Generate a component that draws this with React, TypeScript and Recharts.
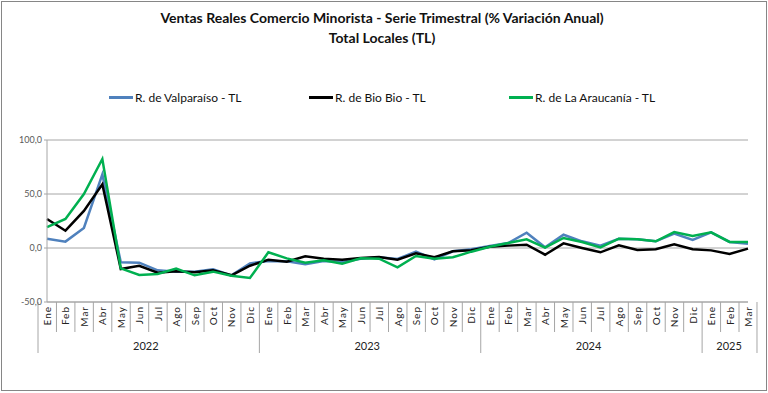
import React from 'react';
import { LineChart, Line, XAxis, YAxis, CartesianGrid } from 'recharts';

const months = [
  'Ene', 'Feb', 'Mar', 'Abr', 'May', 'Jun', 'Jul', 'Ago', 'Sep', 'Oct', 'Nov', 'Dic',
  'Ene', 'Feb', 'Mar', 'Abr', 'May', 'Jun', 'Jul', 'Ago', 'Sep', 'Oct', 'Nov', 'Dic',
  'Ene', 'Feb', 'Mar', 'Abr', 'May', 'Jun', 'Jul', 'Ago', 'Sep', 'Oct', 'Nov', 'Dic',
  'Ene', 'Feb', 'Mar',
];
const years = ['2022', '2023', '2024', '2025'];
const monthsPerYear = [12, 12, 12, 3];

const valparaiso = [
  8.6, 5.9, 18.5, 68.2, -13.3, -13.6, -20.7, -21.9, -21.9, -19.8, -25.3, -14.2,
  -12, -12.3, -15.1, -12, -13, -9.9, -8.6, -10.2, -3.4, -10.5, -3, -1.2,
  1.9, 4.6, 14.2, 0.6, 12.3, 6.2, 2.2, 8.6, 8, 6.2, 13.3, 7.4,
  14.5, 5.6, 4,
];
const bioBio = [
  26.9, 16, 34.3, 59, -19.4, -16.4, -22.8, -21.6, -22.5, -20.7, -25.3, -16.4,
  -11, -12.7, -7.7, -9.9, -10.8, -9.3, -8.3, -10.8, -4.9, -8.6, -3, -2,
  1.2, 2.2, 3.1, -6.2, 4.3, 0, -4, 2.5, -1.9, -1.2, 3.4, -1.2,
  -2.2, -5.6, -0.6,
];
const araucania = [
  19.4, 26.9, 50, 82.4, -18.8, -25, -24, -19.1, -25.3, -21.9, -25.6, -27.8,
  -4, -9.6, -13.6, -11.4, -14.5, -9.6, -9.9, -17.9, -7.4, -9.9, -8.6, -3.4,
  1.2, 4.6, 8, 0.3, 9.3, 5.6, 0.6, 8.6, 8, 6.2, 14.8, 11.1,
  14.5, 5.6, 5.6,
];
const yTicks = [-50, 0, 50, 100];

const series = [
  { key: 'valparaiso', name: 'R. de Valparaíso - TL', color: '#4f81bd' },
  { key: 'bioBio', name: 'R. de Bio Bio - TL', color: '#000000' },
  { key: 'araucania', name: 'R. de La Araucanía - TL', color: '#00b050' },
];

// index where each year group starts
const yearStart: number[] = [];
monthsPerYear.reduce((acc, n) => { yearStart.push(acc); return acc + n; }, 0);

const data = months.map((m, i) => ({
  month: m,
  valparaiso: valparaiso[i],
  bioBio: bioBio[i],
  araucania: araucania[i],
}));

const FONT = 'Lato, "Open Sans", sans-serif';
const W = 768;
const H = 393;
const PLOT_LEFT = 47;
const PLOT_RIGHT = 748;
const BAND = (PLOT_RIGHT - PLOT_LEFT) / months.length;
const GRID = '#a6a6a6';

const MonthTick = (props: any) => {
  const { x, y, payload } = props;
  const i = payload.index;
  const left = x - BAND / 2;
  const yi = yearStart.indexOf(i);
  const isLast = i === months.length - 1;
  return (
    <g>
      <line x1={left} x2={left} y1={y} y2={yi >= 0 ? y + 51 : y + 30} stroke={GRID} />
      {isLast && <line x1={x + BAND / 2} x2={x + BAND / 2} y1={y} y2={y + 51} stroke={GRID} />}
      <text
        transform={`translate(${x + 4},${y + 4}) rotate(-90)`}
        textAnchor="end"
        fontSize={10}
        letterSpacing={1}
        fill="#222"
        fontFamily={FONT}
      >
        {payload.value}
      </text>
      {yi >= 0 && (
        <text
          x={left + (monthsPerYear[yi] * BAND) / 2}
          y={y + 48}
          textAnchor="middle"
          fontSize={11}
          fill="#222"
          fontFamily={FONT}
        >
          {years[yi]}
        </text>
      )}
    </g>
  );
};

export default function App() {
  return (
    <div style={{ position: 'absolute', left: 0, top: 0, width: W, height: H, background: '#fff', fontFamily: FONT }}>
      <div style={{ position: 'absolute', left: 1, top: 1, width: 766, height: 390, border: '1px solid #868686', boxSizing: 'border-box' }} />
      <div style={{ position: 'absolute', left: 0, width: 764, top: 8, textAlign: 'center', fontWeight: 700, fontSize: 14, lineHeight: '20px', color: '#111' }}>
        Ventas Reales Comercio Minorista - Serie Trimestral (% Variación Anual)
        <br />
        Total Locales (TL)
      </div>
      {series.map((s, i) => (
        <div key={s.key} style={{ position: 'absolute', top: 90, left: 109 + i * 200, display: 'flex', alignItems: 'center', fontSize: 12, color: '#111', whiteSpace: 'nowrap' }}>
          <span style={{ display: 'inline-block', width: 24, height: 3, background: s.color, marginRight: 2 }} />
          {s.name}
        </div>
      ))}
      <div style={{ position: 'absolute', left: 0, top: 0 }}>
        <LineChart width={W} height={H} data={data} margin={{ top: 140, right: W - PLOT_RIGHT, left: 0, bottom: 1 }}>
          <CartesianGrid vertical={false} stroke={GRID} />
          <XAxis
            dataKey="month"
            interval={0}
            height={90}
            tickLine={false}
            tickSize={0}
            tickMargin={0}
            axisLine={{ stroke: GRID }}
            tick={<MonthTick />}
          />
          <YAxis
            width={PLOT_LEFT}
            domain={[-50, 100]}
            ticks={yTicks}
            tickFormatter={(v: number) => v.toFixed(1).replace('.', ',')}
            tick={{ fontSize: 9, fill: '#595959', fontFamily: FONT }}
            tickSize={3}
            tickLine={{ stroke: GRID }}
            axisLine={{ stroke: GRID }}
          />
          {series.map((s) => (
            <Line
              key={s.key}
              dataKey={s.key}
              name={s.name}
              stroke={s.color}
              strokeWidth={2.5}
              dot={false}
              isAnimationActive={false}
            />
          ))}
        </LineChart>
      </div>
    </div>
  );
}
